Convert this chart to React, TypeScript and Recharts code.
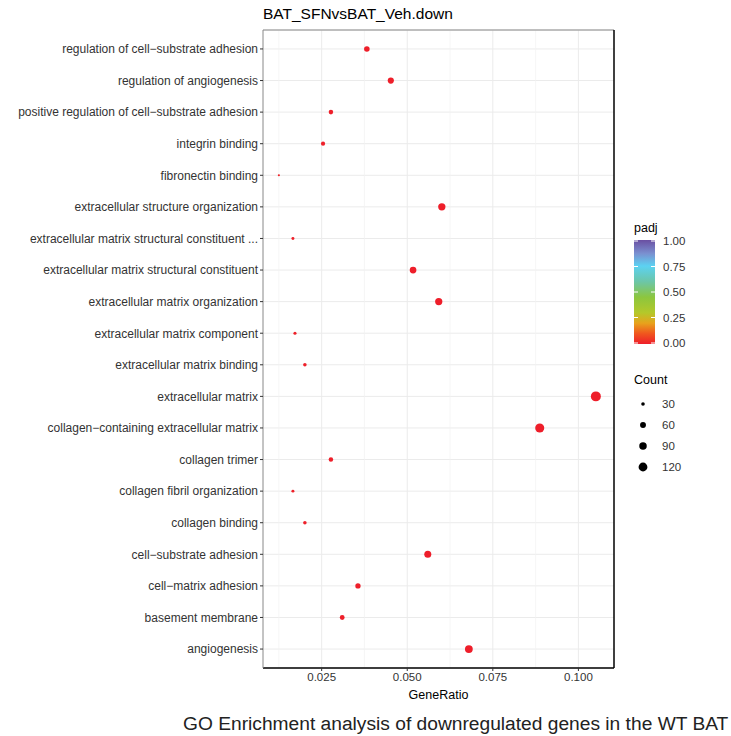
import { ScatterChart, Scatter, XAxis, YAxis, ZAxis, CartesianGrid, ReferenceLine, Cell } from 'recharts';

const FONT = '"Liberation Sans", Arial, sans-serif';

// GO terms, top to bottom
const terms = [
  'regulation of cell−substrate adhesion',
  'regulation of angiogenesis',
  'positive regulation of cell−substrate adhesion',
  'integrin binding',
  'fibronectin binding',
  'extracellular structure organization',
  'extracellular matrix structural constituent ...',
  'extracellular matrix structural constituent',
  'extracellular matrix organization',
  'extracellular matrix component',
  'extracellular matrix binding',
  'extracellular matrix',
  'collagen−containing extracellular matrix',
  'collagen trimer',
  'collagen fibril organization',
  'collagen binding',
  'cell−substrate adhesion',
  'cell−matrix adhesion',
  'basement membrane',
  'angiogenesis',
];

const geneRatio = [
  0.0382, 0.0452, 0.0277, 0.0254, 0.0125, 0.0601, 0.0166, 0.0517, 0.0592, 0.0172,
  0.0201, 0.1051, 0.0887, 0.0277, 0.0166, 0.0201, 0.056, 0.0356, 0.031, 0.068,
];

const counts = [55, 65, 40, 36, 18, 86, 24, 74, 85, 25, 29, 150, 127, 40, 24, 29, 80, 51, 44, 97];

const padj = [
  0.001, 0.001, 0.002, 0.003, 0.01, 0.0001, 0.004, 0.0001, 0.0001, 0.005,
  0.003, 0.0001, 0.0001, 0.002, 0.006, 0.004, 0.0001, 0.001, 0.002, 0.0001,
];

const xTicks = [0.025, 0.05, 0.075, 0.1];
const xMinorTicks = [0.0125, 0.0375, 0.0625, 0.0875];
const padjTicks = [0, 0.25, 0.5, 0.75, 1];
const countTicks = [30, 60, 90, 120];

// colour bar stops (padj -> colour)
const padjStops: [number, string][] = [
  [0, '#EE1E2A'],
  [0.1, '#F0561E'],
  [0.2, '#E8A21C'],
  [0.3, '#B4C82A'],
  [0.45, '#8CC63E'],
  [0.6, '#6CC6A8'],
  [0.75, '#5CD2F2'],
  [0.87, '#7A90D0'],
  [1, '#6A4FA2'],
];

const xDomain = [0.00786, 0.1104];
const yDomain = [0.4, 20.6];
const countDomain = [Math.min(...counts), Math.max(...counts)];
const areaRange = [3.6, 78];

function hexToRgb(h: string) {
  return [1, 3, 5].map((i) => parseInt(h.slice(i, i + 2), 16));
}

function padjColor(v: number) {
  for (let i = 1; i < padjStops.length; i++) {
    const [p1, c1] = padjStops[i];
    if (v <= p1) {
      const [p0, c0] = padjStops[i - 1];
      const t = (v - p0) / (p1 - p0);
      const a = hexToRgb(c0);
      const b = hexToRgb(c1);
      const m = a.map((x, k) => Math.round(x + (b[k] - x) * t));
      return `rgb(${m[0]},${m[1]},${m[2]})`;
    }
  }
  return padjStops[padjStops.length - 1][1];
}

function countRadius(c: number) {
  const area =
    areaRange[0] + ((c - countDomain[0]) / (countDomain[1] - countDomain[0])) * (areaRange[1] - areaRange[0]);
  return Math.sqrt(area / Math.PI);
}

const data = terms.map((term, i) => ({
  term,
  x: geneRatio[i],
  y: i + 1,
  count: counts[i],
  padj: padj[i],
}));

function TermTick(props: any) {
  const { x, y, payload } = props;
  return (
    <text x={x} y={y} dy="0.36em" textAnchor="end" fontSize={12} fontFamily={FONT} fill="#333">
      {terms[payload.value - 1]}
    </text>
  );
}

function Legends() {
  const barTop = 25;
  const barH = 104;
  return (
    <svg width={110} height={270} style={{ position: 'absolute', left: 621, top: 215 }}>
      <defs>
        <linearGradient id="padjGrad" x1="0" y1="1" x2="0" y2="0">
          {padjStops.map(([p, c]) => (
            <stop key={p} offset={`${p * 100}%`} stopColor={c} />
          ))}
        </linearGradient>
      </defs>
      <text x={13} y={13} fontSize={12.5} fontFamily={FONT} dominantBaseline="central" fill="#000">
        padj
      </text>
      <rect x={13} y={barTop} width={21} height={barH} fill="url(#padjGrad)" />
      {padjTicks.map((v) => {
        const y = barTop + barH - v * (barH - 2) - 1;
        return (
          <g key={v}>
            <line x1={13} x2={17} y1={y} y2={y} stroke="#fff" strokeWidth={1} />
            <line x1={30} x2={34} y1={y} y2={y} stroke="#fff" strokeWidth={1} />
            <text x={42} y={y} fontSize={11.5} fontFamily={FONT} dominantBaseline="central" fill="#333">
              {v.toFixed(2)}
            </text>
          </g>
        );
      })}
      <text x={13} y={165} fontSize={12.5} fontFamily={FONT} dominantBaseline="central" fill="#000">
        Count
      </text>
      {countTicks.map((c, i) => {
        const y = 189 + i * 21;
        return (
          <g key={c}>
            <circle cx={22} cy={y} r={countRadius(c)} fill="#000" />
            <text x={41} y={y} fontSize={11.5} fontFamily={FONT} dominantBaseline="central" fill="#333">
              {c}
            </text>
          </g>
        );
      })}
    </svg>
  );
}

export default function App() {
  return (
    <div style={{ position: 'absolute', left: 0, top: 0, width: 731, height: 736, background: '#fff', fontFamily: FONT }}>
      <ScatterChart width={731} height={736} margin={{ top: 30, right: 117, bottom: 0, left: 0 }}>
        <CartesianGrid vertical={false} stroke="#EBEBEB" strokeWidth={1} />
        {xMinorTicks.map((t) => (
          <ReferenceLine key={`m${t}`} x={t} stroke="#F2F2F2" strokeWidth={0.7} />
        ))}
        {xTicks.map((t) => (
          <ReferenceLine key={`M${t}`} x={t} stroke="#EBEBEB" strokeWidth={1} />
        ))}
        <XAxis
          type="number"
          dataKey="x"
          domain={xDomain}
          ticks={xTicks}
          interval={0}
          tickFormatter={(v: number) => v.toFixed(3)}
          height={68}
          tickSize={3}
          tick={{ fontSize: 11.5, fill: '#333', fontFamily: FONT }}
          tickLine={{ stroke: '#333' }}
          axisLine={{ stroke: '#000', strokeWidth: 1.5 }}
          label={{ value: 'GeneRatio', position: 'insideBottom', offset: 37, fontSize: 12.5, fill: '#000', fontFamily: FONT }}
        />
        <YAxis
          type="number"
          dataKey="y"
          domain={yDomain}
          reversed
          ticks={terms.map((_, i) => i + 1)}
          interval={0}
          width={263}
          tickSize={3}
          tick={<TermTick />}
          tickLine={{ stroke: '#333' }}
          axisLine={{ stroke: '#888', strokeWidth: 1 }}
        />
        <ZAxis type="number" dataKey="count" domain={countDomain} range={areaRange} />
        <ReferenceLine y={yDomain[0]} stroke="#888" strokeWidth={1} />
        <ReferenceLine x={xDomain[1]} stroke="#000" strokeWidth={1.5} />
        <Scatter data={data} isAnimationActive={false}>
          {data.map((d) => (
            <Cell key={d.term} fill={padjColor(d.padj)} />
          ))}
        </Scatter>
      </ScatterChart>
      <Legends />
      <svg width={731} height={736} style={{ position: 'absolute', left: 0, top: 0, pointerEvents: 'none' }}>
        <text x={263} y={13} fontSize={15.5} fontFamily={FONT} dominantBaseline="central" fill="#000">
          BAT_SFNvsBAT_Veh.down
        </text>
        <text x={183} y={723} fontSize={19.2} fontFamily={FONT} dominantBaseline="central" fill="#222">
          GO Enrichment analysis of downregulated genes in the WT BAT
        </text>
      </svg>
    </div>
  );
}
